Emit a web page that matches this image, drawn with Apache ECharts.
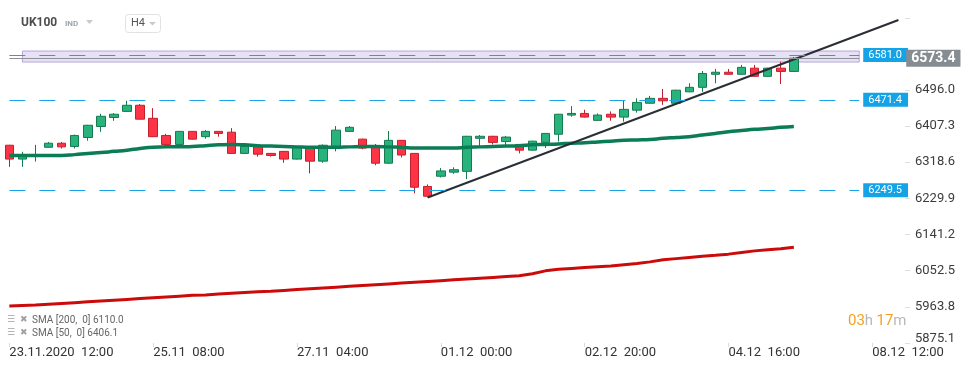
<!DOCTYPE html>
<html><head><meta charset="utf-8">
<script src="https://cdn.jsdelivr.net/npm/echarts@6/dist/echarts.min.js"></script>
<style>html,body{margin:0;padding:0;background:#fff}#c{width:974px;height:368px}</style>
</head><body><div id="c"></div>
<script>
// ---- data ----
const opens  = [6360,6326,6333,6355,6365,6357,6379,6406,6428,6443,6458,6426,6384,6362,6394,6381,6394,6392,6340,6357,6340,6345,6326,6353,6321,6356,6394,6375,6355,6316,6372,6340,6259,6284,6294,6296,6377,6382,6369,6362,6348,6367,6387,6434,6438,6421,6436,6429,6446,6463,6475,6463,6491,6502,6534,6539,6534,6549,6529,6549,6541];
const closes = [6326,6336,6335,6365,6356,6384,6409,6431,6436,6458,6424,6381,6362,6394,6375,6394,6389,6340,6357,6338,6335,6326,6354,6321,6360,6397,6404,6353,6316,6372,6336,6257,6235,6297,6300,6382,6382,6367,6380,6348,6370,6389,6436,6438,6429,6434,6429,6448,6465,6475,6469,6495,6502,6536,6539,6534,6551,6529,6549,6541,6573.4];
const lows   = [6307,6307,6320,6354,6352,6352,6371,6393,6420,6442,6423,6380,6361,6358,6374,6376,6381,6339,6339,6332,6332,6317,6325,6291,6317,6345,6393,6350,6311,6315,6330,6242,6232,6281,6290,6277,6358,6362,6358,6340,6347,6353,6369,6430,6428,6420,6420,6418,6440,6462,6459,6462,6490,6491,6512,6533,6533,6528,6528,6510,6540];
const highs  = [6361,6344,6361,6368,6368,6386,6410,6437,6439,6469,6461,6451,6388,6395,6395,6397,6395,6402,6365,6358,6341,6346,6355,6354,6362,6407,6407,6376,6363,6395,6373,6341,6264,6304,6306,6383,6385,6383,6383,6363,6371,6390,6437,6456,6447,6438,6443,6469,6475,6481,6498,6496,6512,6542,6547,6547,6557,6557,6550,6565,6576];
const sma50  = [6335,6335,6335,6335,6335,6337,6340,6342,6345,6348,6352,6355,6356,6356,6357,6359,6361,6362,6361,6359,6358,6357,6356,6355,6355,6355,6356,6357,6357,6356,6355,6353,6353,6353,6353,6355,6356,6357,6358,6359,6361,6362,6363,6365,6366,6368,6370,6372,6373,6374,6377,6379,6381,6385,6389,6393,6396,6399,6401,6404,6406.1];
const sma200 = [5966,5967,5968,5970,5972,5974,5976,5978,5980,5982,5984,5986,5988,5990,5992,5993,5995,5997,5999,6001,6002,6004,6006,6008,6010,6012,6014,6016,6018,6020,6022,6024,6026,6028,6030,6032,6034,6036,6038,6040,6045,6052,6056,6058,6060,6062,6064,6067,6070,6074,6079,6082,6085,6088,6090,6093,6097,6101,6104,6106,6110.0];
const levels = [6581.0, 6471.4, 6249.5];
const currentPrice = 6573.4;
const zoneTop = 6591, zoneBottom = 6564;
const trendStart = [32, 6232], trendEnd = [68, 6667];
const xTickIdx = [0, 11, 22, 33, 44, 55, 66];
const xTickLabels = ['23.11.2020  12:00', '25.11  08:00', '27.11  04:00', '01.12  00:00', '02.12  20:00', '04.12  16:00', '08.12  12:00'];
const yTickLabels = ['5875.1','5963.8','6052.5','6141.2','6229.9','6318.6','6407.3','6496.0','6584.6'];
const slotCount = 69;

// H4 bar times (Mon-Fri)
const categories = [];
{
  let t = new Date(2020, 10, 23, 12, 0);
  while (categories.length < slotCount) {
    const d = t.getDay();
    if (d !== 0 && d !== 6) {
      const p = n => String(n).padStart(2, '0');
      categories.push(p(t.getDate()) + '.' + p(t.getMonth() + 1) + ' ' + p(t.getHours()) + ':00');
    }
    t = new Date(t.getTime() + 4 * 3600 * 1000);
  }
}
const candles = opens.map((o, i) => [o, closes[i], lows[i], highs[i]]);

const FONT = 'Roboto, "Noto Sans", sans-serif';
const chart = echarts.init(document.getElementById('c'), null, {renderer: 'canvas'});
const showIdx = (i) => xTickIdx.indexOf(i) >= 0;

const levelLines = levels.map(v => [
  {coord: [0, v], lineStyle: {color: '#1aa3e8', width: 1, type: [16, 14]},
   label: {show: true, position: 'end', distance: 4, formatter: v.toFixed(1), color: '#fff', fontSize: 11, fontFamily: FONT,
           backgroundColor: '#14a3e6', padding: [2, 6, 1, 5]}},
  {coord: [65, v]}
]);
const priceLine = [
  {coord: [0, currentPrice], lineStyle: {color: '#8b9196', width: 1, type: 'solid'},
   label: {show: true, position: 'end', distance: 47, formatter: currentPrice.toFixed(1), color: '#fff', fontSize: 14, fontWeight: 'bold', fontFamily: FONT,
           lineHeight: 15, backgroundColor: '#868d92', padding: [1, 5, 1, 5]}},
  {coord: [65, currentPrice]}
];

chart.setOption({
  backgroundColor: '#fff',
  animation: false,
  grid: {left: 2.8, right: 69, top: 18, bottom: 25},
  xAxis: {
    type: 'category', data: categories, boundaryGap: true,
    axisLine: {show: false},
    axisTick: {show: true, alignWithLabel: true, interval: (i) => showIdx(i), length: 4, lineStyle: {color: '#dcdcdc'}},
    axisLabel: {interval: (i) => showIdx(i), formatter: (v, i) => { const k = xTickIdx.indexOf(i); return k >= 0 ? xTickLabels[k] : ''; },
                align: 'left', margin: 3, color: '#333', fontSize: 13, fontFamily: FONT},
    splitLine: {show: false}
  },
  yAxis: {
    type: 'value', position: 'right', min: 5875.1, max: 6672, interval: 88.7, scale: true,
    axisLine: {show: false},
    axisTick: {show: true, length: 5, lineStyle: {color: '#dedede'}},
    splitLine: {show: false},
    axisLabel: {
      margin: 10, color: '#3c3c3c', fontSize: 13, fontFamily: FONT, showMaxLabel: true,
      formatter: (v) => {
        const s = yTickLabels.find(t => Math.abs(parseFloat(t) - v) < 0.05);
        if (!s) return '';
        return s === yTickLabels[0] ? '{lo|' + s + '}' : s;
      },
      rich: {lo: {fontSize: 13, color: '#3c3c3c', fontFamily: FONT, padding: [0, 0, 9, 0]}}
    }
  },
  series: [
    {
      type: 'candlestick', data: candles, barWidth: 9, z: 2,
      itemStyle: {color: '#27b37b', color0: '#ff3346', borderColor: '#167a50', borderColor0: '#c2202f', borderWidth: 1},
      markLine: {symbol: ['none', 'none'], silent: true, animation: false, data: levelLines.concat([priceLine])},
      markArea: {silent: true, itemStyle: {color: 'rgba(196,184,228,0.42)', borderColor: '#b7a6da', borderWidth: 1},
                 data: [[{xAxis: 1, yAxis: zoneTop}, {xAxis: 65, yAxis: zoneBottom}]]}
    },
    {type: 'line', data: sma200, symbol: 'none', smooth: false, z: 3, lineStyle: {color: '#cc0a0a', width: 3}},
    {type: 'line', data: sma50, symbol: 'none', smooth: true, z: 3, lineStyle: {color: '#0b7d56', width: 3.5}},
    {type: 'line', data: [trendStart, trendEnd], symbol: 'none', z: 4, lineStyle: {color: '#2a2e35', width: 2}}
  ],
  graphic: [
    {type: 'text', left: 21, top: 17, style: {text: 'UK100', font: 'bold 12px ' + FONT, fill: '#4d4d4d'}},
    {type: 'text', left: 65, top: 20, style: {text: 'IND', font: 'bold 8px ' + FONT, fill: '#9aa5b1'}},
    {type: 'polygon', shape: {points: [[86, 20], [93, 20], [89.5, 24]]}, style: {fill: '#c6cacd'}},
    {type: 'rect', shape: {x: 125.5, y: 14.5, width: 35, height: 18, r: 3}, style: {fill: '#fff', stroke: '#e2e2e2'}},
    {type: 'text', left: 131, top: 18, style: {text: 'H4', font: '11px ' + FONT, fill: '#555'}},
    {type: 'polygon', shape: {points: [[149, 22], [156, 22], [152.5, 25.5]]}, style: {fill: '#c6cacd'}},
    {type: 'text', left: 7, top: 315, style: {text: '☰', font: 'bold 9px "DejaVu Sans"', fill: '#a0a0a0'}},
    {type: 'text', left: 20, top: 315, style: {text: '✖', font: '9px "DejaVu Sans"', fill: '#a0a0a0'}},
    {type: 'text', left: 32, top: 315, style: {text: 'SMA [200,  0] ' + sma200[sma200.length - 1].toFixed(1), font: '10px ' + FONT, fill: '#666'}},
    {type: 'text', left: 7, top: 328, style: {text: '☰', font: 'bold 9px "DejaVu Sans"', fill: '#a0a0a0'}},
    {type: 'text', left: 20, top: 328, style: {text: '✖', font: '9px "DejaVu Sans"', fill: '#a0a0a0'}},
    {type: 'text', left: 32, top: 328, style: {text: 'SMA [50,  0] ' + sma50[sma50.length - 1].toFixed(1), font: '10px ' + FONT, fill: '#666'}},
    {type: 'text', left: 848, top: 314, style: {text: '{o|03}{g|h} {o|17}{g|m}', rich: {
      o: {fontSize: 15, fontFamily: FONT, fill: '#f5a020', color: '#f5a020'},
      g: {fontSize: 15, fontFamily: FONT, fill: '#b8b8b8', color: '#b8b8b8'}}}}
  ]
});
</script></body></html>
